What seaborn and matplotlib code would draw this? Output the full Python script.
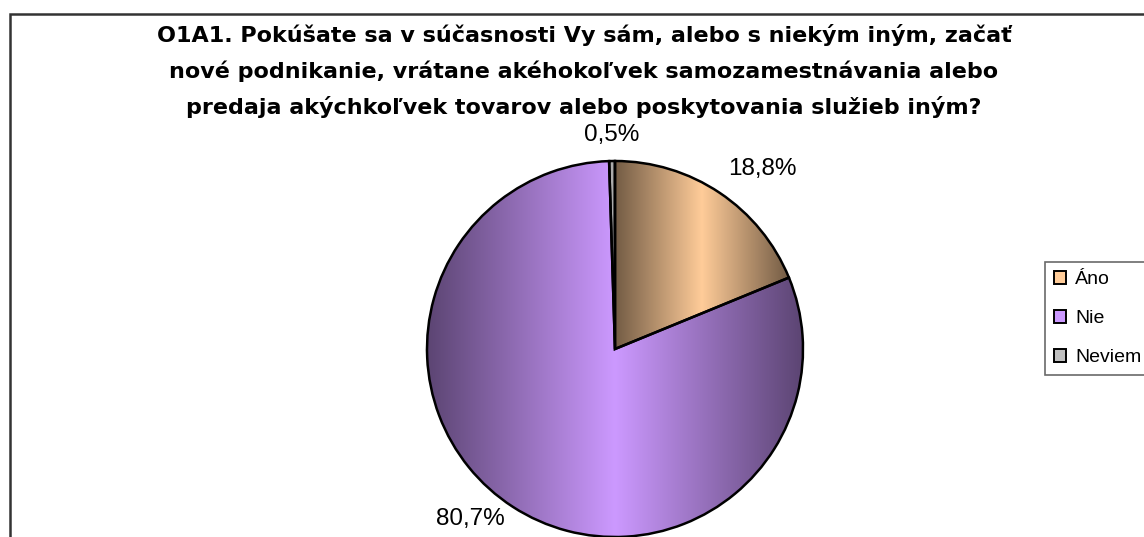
import numpy as np
import matplotlib
matplotlib.use('Agg')
import matplotlib.pyplot as plt
from matplotlib.patches import Rectangle
import seaborn as sns

# chart data
categories = ["Áno", "Nie", "Neviem"]
shares = [18.8, 80.7, 0.5]
base_colors = ["#FFCC99", "#CC99FF", "#C0C0C0"]
title = ("O1A1. Pokúšate sa v súčasnosti Vy sám, alebo s niekým iným, začať\n"
         "nové podnikanie, vrátane akéhokoľvek samozamestnávania alebo\n"
         "predaja akýchkoľvek tovarov alebo poskytovania služieb iným?")

sns.set_theme(style="white")
plt.rcParams['font.family'] = ['Liberation Sans', 'DejaVu Sans']

W, H = 1144, 537
fig = plt.figure(figsize=(W / 100, H / 100), dpi=100)
fig.patch.set_facecolor("white")

# outer chart-area border (right / bottom run off the picture)
fig.add_artist(Rectangle((10 / W, -0.1), 1.2, 1 - 14 / H + 0.1,
                         transform=fig.transFigure, fill=False,
                         edgecolor="#333333", linewidth=1.8))

fig.text(584 / W, 1 - 24 / H, title, ha="center", va="top",
         fontsize=16, fontweight="bold", linespacing=1.8, color="black",
         family=["DejaVu Sans"])

ax = fig.add_axes([0, 0, 1, 1])
cx, cy, R = 615, 188, 188

wedges, _ = ax.pie(shares, colors=base_colors, startangle=90, counterclock=False,
                   center=(cx, cy), radius=R,
                   wedgeprops=dict(edgecolor="black", linewidth=1.8))

# horizontal "variant from center" gradient on each slice
for w, col in zip(wedges, base_colors):
    rgb = np.array(matplotlib.colors.to_rgb(col))
    cmap = sns.blend_palette([rgb * 0.45, rgb, rgb * 0.45], as_cmap=True)
    ext = w.get_path().get_extents()
    grad = np.linspace(0, 1, 256)[None, :]
    im = ax.imshow(grad, cmap=cmap, aspect="auto", interpolation="bilinear",
                   extent=(ext.x0, ext.x1, ext.y0, ext.y1), zorder=w.get_zorder())
    im.set_clip_path(w)
    w.set_zorder(w.get_zorder() + 0.1)
    w.set_facecolor("none")

# percentage labels outside the slices
for w, v in zip(wedges, shares):
    mid = np.deg2rad((w.theta1 + w.theta2) / 2)
    c, s = np.cos(mid), np.sin(mid)
    x, y = cx + 1.08 * R * c, cy + 1.08 * R * s
    ha = "center" if abs(c) < 0.3 else ("left" if c > 0 else "right")
    va = "bottom" if s > 0.3 else "center"
    ax.text(x, y, f"{v:.1f}%".replace(".", ","), ha=ha, va=va,
            fontsize=17.5, color="black")

ax.set_xlim(0, W)
ax.set_ylim(0, H)
ax.set_aspect("equal")
ax.axis("off")

handles = [Rectangle((0, 0), 1, 1, facecolor=c, edgecolor="black", linewidth=1.4)
           for c in base_colors]
leg = fig.legend(handles, categories, loc="upper left",
                 bbox_to_anchor=(1045 / W, 1 - 262 / H), fontsize=14,
                 labelcolor="black",
                 frameon=True, fancybox=False, edgecolor="#444444",
                 handlelength=0.65, handleheight=0.65, handletextpad=0.45,
                 labelspacing=1.12, borderpad=0.45, borderaxespad=0)
leg.get_frame().set_linewidth(1.2)

fig.savefig("out.png", dpi=100, facecolor="white")
